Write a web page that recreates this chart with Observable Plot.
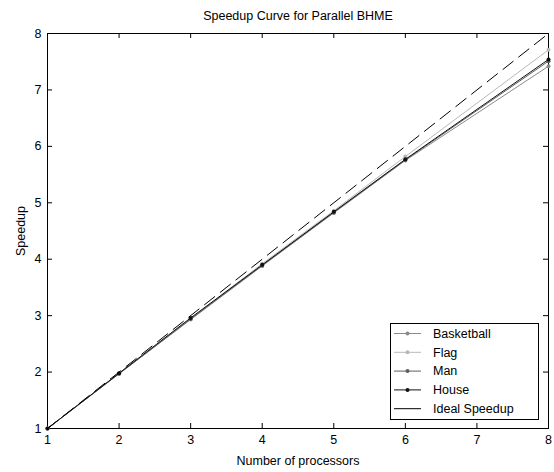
<!DOCTYPE html>
<html>
<head>
<meta charset="utf-8">
<script src="https://cdn.jsdelivr.net/npm/d3@7"></script>
<script src="https://cdn.jsdelivr.net/npm/@observablehq/plot@0.6"></script>
<style>
  html, body { margin: 0; padding: 0; background: #fff; }
</style>
</head>
<body>
<div id="chart"></div>
<script>
const title = "Speedup Curve for Parallel BHME";
const xLabel = "Number of processors";
const yLabel = "Speedup";
const xTicks = [1, 2, 3, 4, 5, 6, 7, 8];
const yTicks = [1, 2, 3, 4, 5, 6, 7, 8];

const processors = [1, 2, 3, 4, 5, 6, 8];
const basketball = [1, 1.97, 2.93, 3.88, 4.82, 5.75, 7.42];
const flag       = [1, 1.98, 2.95, 3.92, 4.86, 5.82, 7.71];
const man        = [1, 1.97, 2.94, 3.89, 4.83, 5.76, 7.51];
const house      = [1, 1.98, 2.96, 3.90, 4.84, 5.77, 7.54];
const idealX = [1, 8];
const idealY = [1, 8];

const seriesNames = ["Basketball", "Flag", "Man", "House"];
const seriesValues = [basketball, flag, man, house];
const seriesColors = ["#8a8a8a", "#b8b8b8", "#5e5e5e", "#111111"];
const idealName = "Ideal Speedup";

const font = "'Liberation Sans', Arial, sans-serif";
const W = 554, H = 472, mL = 47, mR = 6, mT = 33, mB = 44;
const frameW = W - mL - mR, frameH = H - mT - mB, tickLen = 5;

const idealRows = idealX.map((x, i) => ({x, y: idealY[i]}));

const seriesMarks = seriesNames.flatMap((name, s) => {
  const rows = processors.map((x, i) => ({x, y: seriesValues[s][i]}));
  return [
    Plot.line(rows, {x: "x", y: "y", stroke: seriesColors[s], strokeWidth: 1}),
    Plot.dot(rows, {x: "x", y: "y", r: 2, fill: seriesColors[s], stroke: "none"})
  ];
});

function legendMark(index, scales, values, dim) {
  const g = d3.create("svg:g");
  const boxW = 148, boxH = 96;
  const right = dim.width - dim.marginRight - 10;
  const bottom = dim.height - dim.marginBottom - 9;
  const left = right - boxW, top = bottom - boxH;
  g.append("rect").attr("x", left + 0.5).attr("y", top + 0.5)
    .attr("width", boxW).attr("height", boxH)
    .attr("fill", "white").attr("stroke", "black");
  const names = seriesNames.concat([idealName]);
  const colors = seriesColors.concat(["black"]);
  names.forEach((name, i) => {
    const cy = top + 10.5 + i * 18.8;
    g.append("line").attr("x1", left + 4).attr("x2", left + 31)
      .attr("y1", cy).attr("y2", cy).attr("stroke", colors[i]).attr("stroke-width", 1);
    if (i < seriesNames.length) {
      g.append("circle").attr("cx", left + 17.5).attr("cy", cy).attr("r", 2).attr("fill", colors[i]);
    }
    g.append("text").attr("x", left + 43).attr("y", cy).attr("dy", "0.35em")
      .attr("text-anchor", "start").attr("fill", "black")
      .style("font-family", font).style("font-size", "12.5px").text(name);
  });
  return g.node();
}

const chart = Plot.plot({
  width: W,
  height: H,
  marginLeft: mL,
  marginRight: mR,
  marginTop: mT,
  marginBottom: mB,
  style: {fontFamily: font, fontSize: "12.5px", color: "black", background: "white"},
  x: {domain: [1, 8]},
  y: {domain: [1, 8]},
  marks: [
    Plot.frame({stroke: "black"}),
    Plot.axisX(xTicks, {anchor: "bottom", tickSize: 0, tickPadding: 7, tickFormat: "d", label: xLabel, labelAnchor: "center", labelOffset: 36, labelArrow: "none"}),
    Plot.axisY(yTicks, {anchor: "left", tickSize: 0, tickPadding: 6, tickFormat: "d", label: yLabel, labelAnchor: "center", labelOffset: 31, labelArrow: "none"}),
    Plot.tickX(xTicks, {x: d => d, stroke: "black", insetTop: frameH - tickLen}),
    Plot.tickX(xTicks, {x: d => d, stroke: "black", insetBottom: frameH - tickLen}),
    Plot.tickY(yTicks, {y: d => d, stroke: "black", insetRight: frameW - tickLen}),
    Plot.tickY(yTicks, {y: d => d, stroke: "black", insetLeft: frameW - tickLen}),
    ...seriesMarks,
    Plot.line(idealRows, {x: "x", y: "y", stroke: "black", strokeWidth: 1, strokeDasharray: "13,7"}),
    Plot.text([title], {frameAnchor: "top", dy: -22, fontSize: 12.5, fill: "black"}),
    legendMark
  ]
});
document.getElementById("chart").appendChild(chart);
</script>
</body>
</html>
